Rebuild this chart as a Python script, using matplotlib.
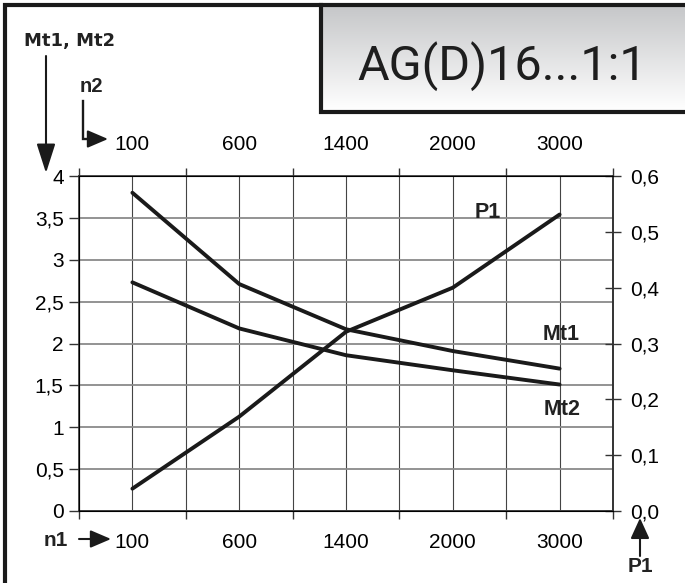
import numpy as np
import matplotlib
matplotlib.use("Agg")
import matplotlib.pyplot as plt
from matplotlib import font_manager
from matplotlib.colors import LinearSegmentedColormap

# Speeds (shared by n1 and n2 scales), category positions on a 0..10 grid
SPEEDS = ["100", "600", "1400", "2000", "3000"]
POS = [1, 3, 5, 7, 9]

MT1 = [3.80, 2.71, 2.17, 1.91, 1.70]
MT2 = [2.73, 2.18, 1.86, 1.68, 1.51]
P1 = [0.040, 0.169, 0.321, 0.400, 0.531]

LEFT_TICKS = [0, 0.5, 1, 1.5, 2, 2.5, 3, 3.5, 4]
RIGHT_TICKS = [0.0, 0.1, 0.2, 0.3, 0.4, 0.5, 0.6]

TITLE = "AG(D)16...1:1"

W, H = 685, 583
LINE = "#1a1a1a"

names = {f.name for f in font_manager.fontManager.ttflist}
if "Liberation Sans Narrow" in names:
    title_font, title_size = "Liberation Sans Narrow", 42
else:
    title_font, title_size = "Roboto", 35

plt.rcParams["font.family"] = ["Liberation Sans", "DejaVu Sans"]

fig = plt.figure(figsize=(W / 100, H / 100), dpi=100)
fig.patch.set_facecolor("white")

# pixel overlay for frame, title box and axis arrows
ov = fig.add_axes([0, 0, 1, 1], zorder=5)
ov.axis("off")
ov.patch.set_visible(False)

# main chart area
left, right, top, bottom = 79, 613, 176, 511
ax = fig.add_axes([left / W, 1 - bottom / H, (right - left) / W, (bottom - top) / H])
ax.set_xlim(0, 10)
ax.set_ylim(0, 4)

ax.set_xticks([0, 2, 4, 6, 8, 10])
ax.set_xticks(POS, SPEEDS, minor=True)
ax.set_yticks(LEFT_TICKS, [f"{v:g}".replace(".", ",") for v in LEFT_TICKS])

ax.tick_params(axis="x", which="major", top=True, bottom=True, length=6, width=1,
               color="#333333", labelbottom=False, labeltop=False)
ax.tick_params(axis="x", which="minor", top=True, bottom=True, length=0,
               labelbottom=True, labeltop=True, labelsize=15, pad=15.5)
ax.tick_params(axis="y", length=7, width=1, color="#333333", labelsize=15, pad=4)

ax.grid(axis="x", which="both", color="#444444", lw=0.8)
ax.grid(axis="y", which="major", color="#8a8a8a", lw=1.3)
for s in ax.spines.values():
    s.set_color("#333333")
    s.set_linewidth(1.2)

ax.plot(POS, MT1, color=LINE, lw=2.8, solid_capstyle="round", zorder=3)
ax.plot(POS, MT2, color=LINE, lw=2.8, solid_capstyle="round", zorder=3)

ax2 = ax.twinx()
ax2.set_ylim(0, 0.6)
ax2.set_yticks(RIGHT_TICKS, [f"{v:.1f}".replace(".", ",") for v in RIGHT_TICKS])
ax2.tick_params(axis="y", direction="inout", length=12, width=1, color="#333333",
                labelsize=15, pad=6)
ax2.spines["right"].set_color("#333333")
ax2.spines["right"].set_linewidth(1.2)
ax2.plot(POS, P1, color=LINE, lw=2.8, solid_capstyle="round", zorder=3)

bold = dict(fontsize=15.5, fontweight="bold", color="#222222", ha="center", va="center")
ax.text(7.66, 3.56, "P1", **bold)
ax.text(9.03, 2.11, "Mt1", **bold)
ax.text(9.05, 1.21, "Mt2", **bold)

# title box with grey gradient
cmap = LinearSegmentedColormap.from_list("g", ["#c6c7c9", "#ffffff"])
grad = np.linspace(0, 1, 200).reshape(-1, 1)
ov.imshow(grad, cmap=cmap, extent=(321, W, 111, 6), aspect="auto", zorder=1)
ov.set_xlim(0, W)
ov.set_ylim(H, 0)

# outer frame (left and top edges only)
ov.plot([5.5, 5.5, W], [H, 5, 5], color="#1a1a1a", lw=3, solid_joinstyle="miter")
ov.plot([321.5, 321.5, W], [5, 111.5, 111.5], color="#1a1a1a", lw=3,
        solid_joinstyle="miter", zorder=2)
ov.text(502, 66, TITLE, fontsize=title_size, family=title_font, color="#1e1e1e",
        ha="center", va="center", zorder=3)

# axis arrows and names
ov.text(70, 41, "Mt1, Mt2", fontsize=13, fontweight="bold", family="DejaVu Sans",
        color="#222222", ha="center", va="center")
ov.annotate("", xy=(46, 173), xytext=(46, 56),
            arrowprops=dict(arrowstyle="-|>,head_length=1.0,head_width=0.32",
                            mutation_scale=18, lw=1.5, color="#1a1a1a",
                            shrinkA=0, shrinkB=0))

ov.text(91, 87, "n2", fontsize=14.5, fontweight="bold", color="#222222",
        ha="center", va="center")
ov.plot([83, 83, 96], [101, 139, 139], color="#1a1a1a", lw=1.7,
        solid_joinstyle="miter")
ov.annotate("", xy=(108, 139), xytext=(90, 139),
            arrowprops=dict(arrowstyle="-|>,head_length=0.7,head_width=0.3",
                            mutation_scale=18, lw=1.5, color="#1a1a1a",
                            shrinkA=0, shrinkB=0))

ov.text(56, 540, "n1", fontsize=15, fontweight="bold", color="#222222",
        ha="center", va="center")
ov.annotate("", xy=(111, 539), xytext=(79, 539),
            arrowprops=dict(arrowstyle="-|>,head_length=0.7,head_width=0.3",
                            mutation_scale=18, lw=1.5, color="#1a1a1a",
                            shrinkA=0, shrinkB=0))

ov.text(640, 566, "P1", fontsize=15, fontweight="bold", color="#222222",
        ha="center", va="center")
ov.annotate("", xy=(640, 518), xytext=(640, 556),
            arrowprops=dict(arrowstyle="-|>,head_length=0.7,head_width=0.32",
                            mutation_scale=18, lw=1.5, color="#1a1a1a",
                            shrinkA=0, shrinkB=0))

fig.savefig("out.png", dpi=100)
